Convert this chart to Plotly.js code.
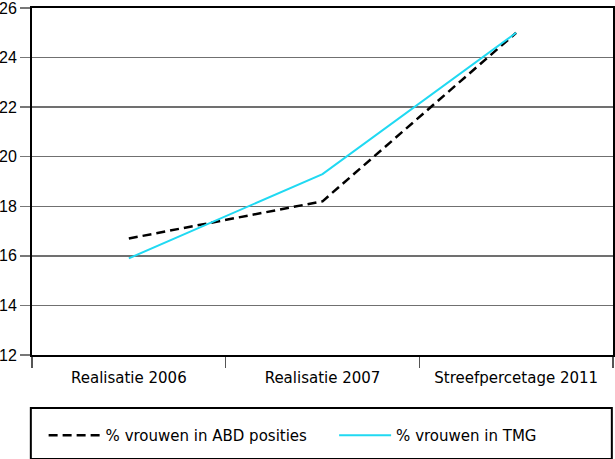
<!DOCTYPE html>
<html>
<head>
<meta charset="utf-8">
<script src="https://cdn.plot.ly/plotly-3.0.1.min.js"></script>
<style>html,body{margin:0;padding:0;background:#fff}#chart{width:615px;height:459px}</style>
</head>
<body>
<div id="chart"></div>
<script>
var categories = ["Realisatie 2006", "Realisatie 2007", "Streefpercetage 2011"];
var abdValues = [16.7, 18.2, 25.0];
var tmgValues = [15.9, 19.3, 25.0];
var seriesNames = ["% vrouwen in ABD posities", "% vrouwen in TMG"];
var yTicks = [12, 14, 16, 18, 20, 22, 24, 26];

var traces = [
  {x: categories, y: abdValues, name: seriesNames[0], type: "scatter", mode: "lines", legend: "legend",
   line: {color: "#000000", width: 2.5, dash: "9px,5px"}},
  {x: categories, y: tmgValues, name: seriesNames[1], type: "scatter", mode: "lines", legend: "legend2",
   line: {color: "#20d9f2", width: 2}}
];

var legendBase = {
  orientation: "h", xanchor: "left", y: -0.232, yanchor: "middle",
  bgcolor: "rgba(0,0,0,0)", borderwidth: 0, itemwidth: 52,
  font: {size: 15}
};

var layout = {
  width: 615, height: 459,
  margin: {l: 32, r: 2, t: 8, b: 104},
  paper_bgcolor: "#ffffff", plot_bgcolor: "#ffffff",
  font: {family: "DejaVu Sans, Liberation Sans, sans-serif", size: 15, color: "#000"},
  showlegend: true,
  xaxis: {
    type: "category", range: [-0.5, 2.5],
    showline: true, mirror: true, linecolor: "#000", linewidth: 2,
    showgrid: false, zeroline: false,
    ticks: "outside", tickson: "boundaries", ticklen: 11, tickcolor: "#555", tickwidth: 1.5,
    ticklabelstandoff: 8,
    tickfont: {size: 15}
  },
  yaxis: {
    range: [12, 26], tickvals: yTicks, ticklabeloverflow: "allow",
    showline: true, mirror: true, linecolor: "#000", linewidth: 2,
    showgrid: true, gridcolor: "#707070", gridwidth: 1.5, zeroline: false,
    ticks: "outside", ticklen: 10, tickcolor: "#777", tickwidth: 1.5,
    tickfont: {size: 16, family: "Liberation Sans, Arial, sans-serif"}
  },
  legend: Object.assign({}, legendBase, {x: 0.02}),
  legend2: Object.assign({}, legendBase, {x: 0.52}),
  shapes: [
    {type: "rect", xref: "paper", yref: "paper",
     x0: -0.002, x1: 0.998, y0: -0.3, y1: -0.153,
     line: {color: "#000", width: 2}, fillcolor: "rgba(0,0,0,0)"}
  ]
};

Plotly.newPlot("chart", traces, layout, {staticPlot: true, displayModeBar: false});
</script>
</body>
</html>
